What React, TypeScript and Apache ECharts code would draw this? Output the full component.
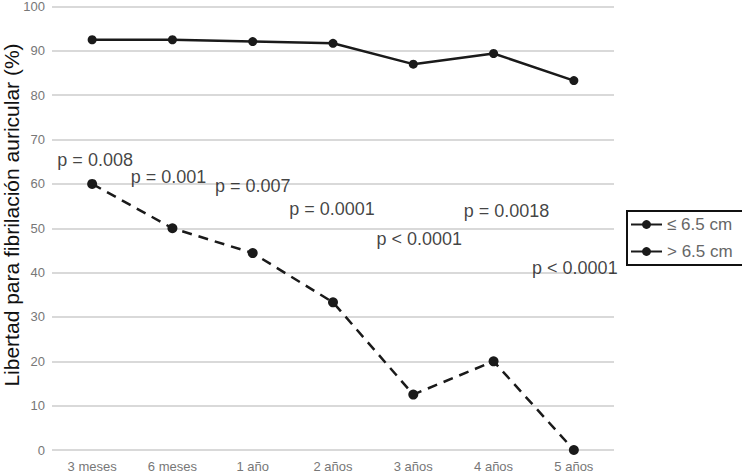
import React, { useEffect, useRef } from "react";
import * as echarts from "echarts";

const categories = ["3 meses", "6 meses", "1 año", "2 años", "3 años", "4 años", "5 años"];
const smallSeries = [92.5, 92.5, 92.1, 91.7, 87.0, 89.4, 83.3];
const largeSeries = [60, 50, 44.4, 33.3, 12.5, 20, 0];
const pValues = ["p = 0.008", "p = 0.001", "p = 0.007", "p = 0.0001", "p < 0.0001", "p = 0.0018", "p < 0.0001"];
const pAnchorY = [65.3, 61.6, 59.6, 54.4, 47.6, 54.0, 41.1];
const pOffsetX = [3, -4, 0, -1, 6, 13, 1];
const yTicks = { min: 0, max: 100, interval: 10 };

export default function App() {
  const ref = useRef<HTMLDivElement>(null);
  useEffect(() => {
    if (!ref.current) return;
    const chart = echarts.init(ref.current, null, { renderer: "svg" });
    const font = "Liberation Sans, Arial, Helvetica, sans-serif";
    chart.setOption({
      animation: false,
      backgroundColor: "#ffffff",
      textStyle: { fontFamily: font },
      grid: { left: 52, right: 128, top: 5, bottom: 21, containLabel: false },
      xAxis: {
        type: "category",
        data: categories,
        boundaryGap: true,
        axisLine: { show: false },
        axisTick: { show: false },
        axisLabel: { color: "#777777", fontSize: 13, margin: 10, fontFamily: font },
        splitLine: { show: false },
      },
      yAxis: {
        type: "value",
        min: yTicks.min,
        max: yTicks.max,
        interval: yTicks.interval,
        axisLine: { show: false },
        axisTick: { show: false },
        axisLabel: { color: "#777777", fontSize: 13, margin: 7, fontFamily: font },
        splitLine: { lineStyle: { color: "#d9d9d9", width: 2 } },
      },
      legend: {
        orient: "vertical",
        left: 627,
        top: 211,
        padding: [5, 20, 5, 3],
        borderColor: "#111111",
        borderWidth: 2,
        itemWidth: 31,
        itemHeight: 11,
        itemGap: 10,
        textStyle: { color: "#666666", fontSize: 17, fontFamily: font },
        data: [
          { name: "≤ 6.5 cm", lineStyle: { type: "solid" } },
          { name: "> 6.5 cm", lineStyle: { type: "solid" } },
        ],
      },
      graphic: [
        {
          type: "text",
          x: 11,
          y: 215,
          rotation: Math.PI / 2,
          style: {
            text: "Libertad para fibrilación auricular (%)",
            fontSize: 21,
            fontFamily: font,
            fill: "#111111",
            align: "center",
            verticalAlign: "middle",
          },
        },
      ],
      series: [
        {
          name: "≤ 6.5 cm",
          type: "line",
          data: smallSeries,
          symbol: "circle",
          symbolSize: 9,
          lineStyle: { color: "#1a1a1a", width: 2.5 },
          itemStyle: { color: "#1a1a1a" },
          z: 3,
        },
        {
          name: "> 6.5 cm",
          type: "line",
          data: largeSeries,
          symbol: "circle",
          symbolSize: 10,
          lineStyle: { color: "#1a1a1a", width: 2.5, type: [10, 7] },
          itemStyle: { color: "#1a1a1a" },
          z: 3,
        },
        {
          name: "p",
          type: "scatter",
          silent: true,
          symbolSize: 0,
          data: pValues.map((_, i) => ({
            value: [i, pAnchorY[i]],
            label: { offset: [pOffsetX[i], 0] },
          })),
          label: {
            show: true,
            position: "inside",
            formatter: (p: any) => pValues[p.dataIndex],
            color: "#111111",
            textBorderWidth: 0,
            fontSize: 18,
            fontFamily: font,
          },
          z: 4,
        },
      ],
    });
    return () => chart.dispose();
  }, []);
  return (
    <div
      ref={ref}
      style={{ position: "fixed", left: 0, top: 0, width: 742, height: 473 }}
    />
  );
}
